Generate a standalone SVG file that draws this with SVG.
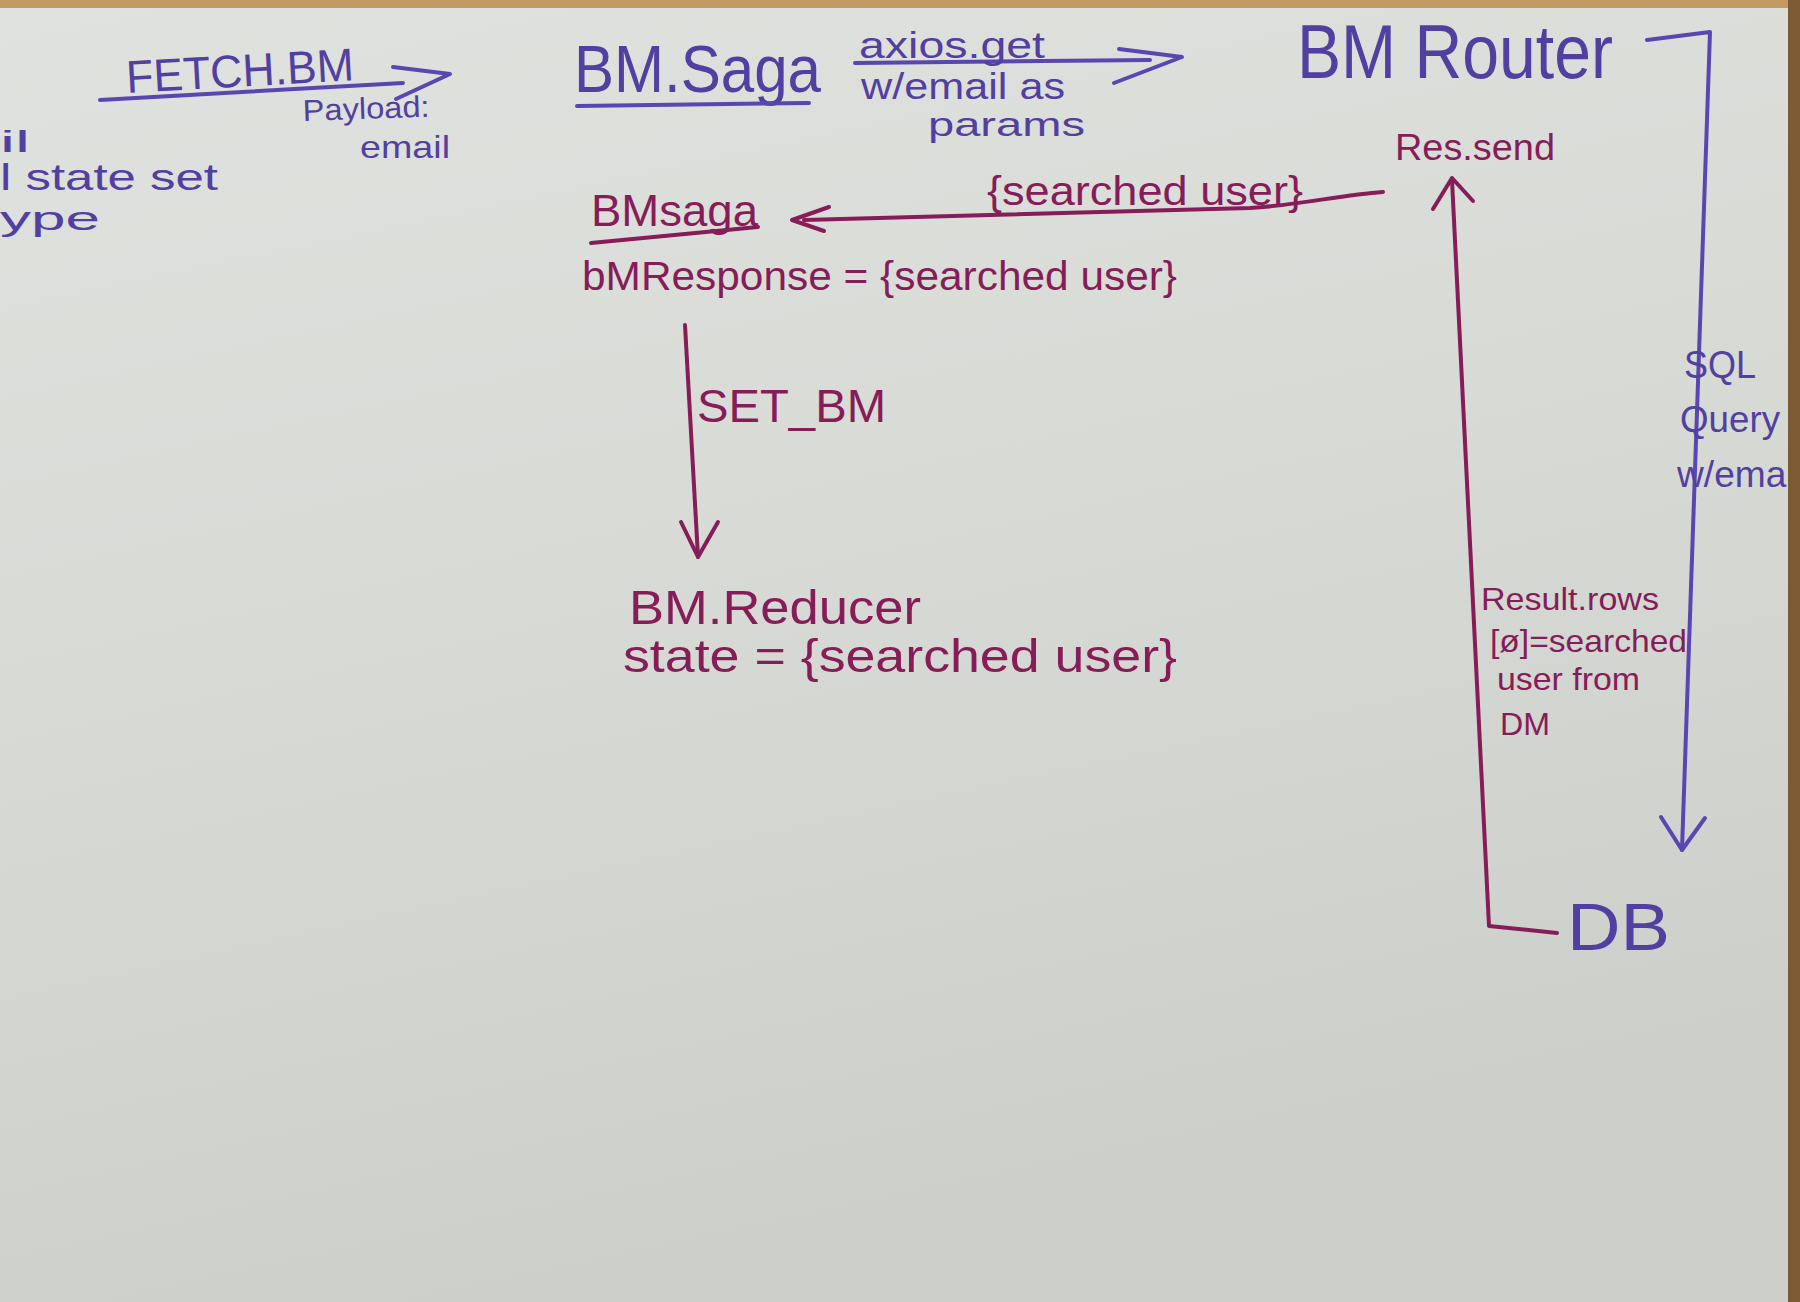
<svg xmlns="http://www.w3.org/2000/svg" width="1800" height="1302" viewBox="0 0 1800 1302">
<style>
text{font-family:"Liberation Sans","DejaVu Sans",sans-serif;}
.b{fill:#5140a0;}
.m{fill:#861c58;}
.lb{stroke:#5a46b0;stroke-width:4;fill:none;stroke-linecap:round;stroke-linejoin:round;}
.lm{stroke:#861c58;stroke-width:4;fill:none;stroke-linecap:round;stroke-linejoin:round;}
</style>
<defs>
<linearGradient id="paper" x1="0" y1="0" x2="0.3" y2="1">
<stop offset="0" stop-color="#e0e2df"/>
<stop offset="0.5" stop-color="#d8dad6"/>
<stop offset="1" stop-color="#cdcfcb"/>
</linearGradient>
</defs>
<rect width="1800" height="1302" fill="url(#paper)"/>
<g id="connectors">
<path class="lb" d="M100,100 L403,83"/>
<polyline class="lb" points="393,67 450,74 396,99"/>
<path class="lb" d="M855,63 L1150,60"/>
<polyline class="lb" points="1119,49 1182,57 1114,83"/>
<path class="lb" d="M1647,40 L1710,32 L1682,850"/>
<polyline class="lb" points="1661,817 1682,850 1705,818"/>
<path class="lm" d="M1557,933 L1489,926 L1452,180"/>
<polyline class="lm" points="1433,209 1452,178 1473,201"/>
<path class="lm" d="M1383,192 C1340,195 1300,205 1250,208 L804,220"/>
<polyline class="lm" points="829,207 792,220 824,231"/>
<path class="lm" d="M685,325 L698,557"/>
<polyline class="lm" points="681,522 698,557 718,522"/>
<text class="b" x="127" y="93" font-size="46" textLength="228" lengthAdjust="spacingAndGlyphs" transform="rotate(-3.2 127 93)">FETCH.BM</text>
<text class="b" x="303" y="121" font-size="30" textLength="127" lengthAdjust="spacingAndGlyphs" transform="rotate(-2 303 121)">Payload:</text>
<text class="b" x="360" y="158" font-size="32" textLength="90" lengthAdjust="spacingAndGlyphs">email</text>
<text class="b" x="859" y="58" font-size="36" textLength="186" lengthAdjust="spacingAndGlyphs">axios.get</text>
<text class="b" x="861" y="99" font-size="36" textLength="204" lengthAdjust="spacingAndGlyphs">w/email as</text>
<text class="b" x="928" y="136" font-size="34" textLength="157" lengthAdjust="spacingAndGlyphs">params</text>
<text class="b" x="1684" y="378" font-size="38" textLength="72" lengthAdjust="spacingAndGlyphs">SQL</text>
<text class="b" x="1680" y="432" font-size="36" textLength="100" lengthAdjust="spacingAndGlyphs">Query</text>
<text class="b" x="1677" y="487" font-size="36" textLength="126" lengthAdjust="spacingAndGlyphs">w/email</text>
<text class="m" x="987" y="205" font-size="40" textLength="316" lengthAdjust="spacingAndGlyphs">{searched user}</text>
<text class="m" x="697" y="422" font-size="46" textLength="189" lengthAdjust="spacingAndGlyphs">SET_BM</text>
<text class="m" x="1481" y="610" font-size="32" textLength="178" lengthAdjust="spacingAndGlyphs">Result.rows</text>
<text class="m" x="1490" y="652" font-size="32" textLength="197" lengthAdjust="spacingAndGlyphs">[ø]=searched</text>
<text class="m" x="1497" y="690" font-size="32" textLength="143" lengthAdjust="spacingAndGlyphs">user from</text>
<text class="m" x="1500" y="735" font-size="32" textLength="50" lengthAdjust="spacingAndGlyphs">DM</text>
</g>
<g id="left-note">
<text class="b" x="0" y="152" font-size="30" textLength="30" lengthAdjust="spacingAndGlyphs">il</text>
<text class="b" x="0" y="190" font-size="36" textLength="218" lengthAdjust="spacingAndGlyphs">l state set</text>
<text class="b" x="0" y="230" font-size="34" textLength="100" lengthAdjust="spacingAndGlyphs">ype</text>
</g>
<g id="bm-saga">
<text class="b" x="574" y="92" font-size="66" textLength="247" lengthAdjust="spacingAndGlyphs">BM.Saga</text>
<path class="lb" d="M577,106 L809,103"/>
</g>
<g id="bm-router">
<text class="b" x="1297" y="78" font-size="76" textLength="316" lengthAdjust="spacingAndGlyphs">BM Router</text>
<text class="m" x="1395" y="160" font-size="36" textLength="160" lengthAdjust="spacingAndGlyphs">Res.send</text>
</g>
<g id="bm-saga-response">
<text class="m" x="591" y="226" font-size="44" textLength="167" lengthAdjust="spacingAndGlyphs">BMsaga</text>
<path class="lm" d="M591,243 L758,227"/>
<text class="m" x="582" y="290" font-size="40" textLength="595" lengthAdjust="spacingAndGlyphs">bMResponse = {searched user}</text>
</g>
<g id="bm-reducer">
<text class="m" x="629" y="624" font-size="48" textLength="292" lengthAdjust="spacingAndGlyphs">BM.Reducer</text>
<text class="m" x="623" y="672" font-size="46" textLength="554" lengthAdjust="spacingAndGlyphs">state = {searched user}</text>
</g>
<g id="db">
<text class="b" x="1567" y="950" font-size="66" textLength="103" lengthAdjust="spacingAndGlyphs">DB</text>
</g>
<rect x="0" y="0" width="1800" height="8" fill="#c39b62"/>
<rect x="1788" y="0" width="12" height="1302" fill="#7d5a33"/>
</svg>
